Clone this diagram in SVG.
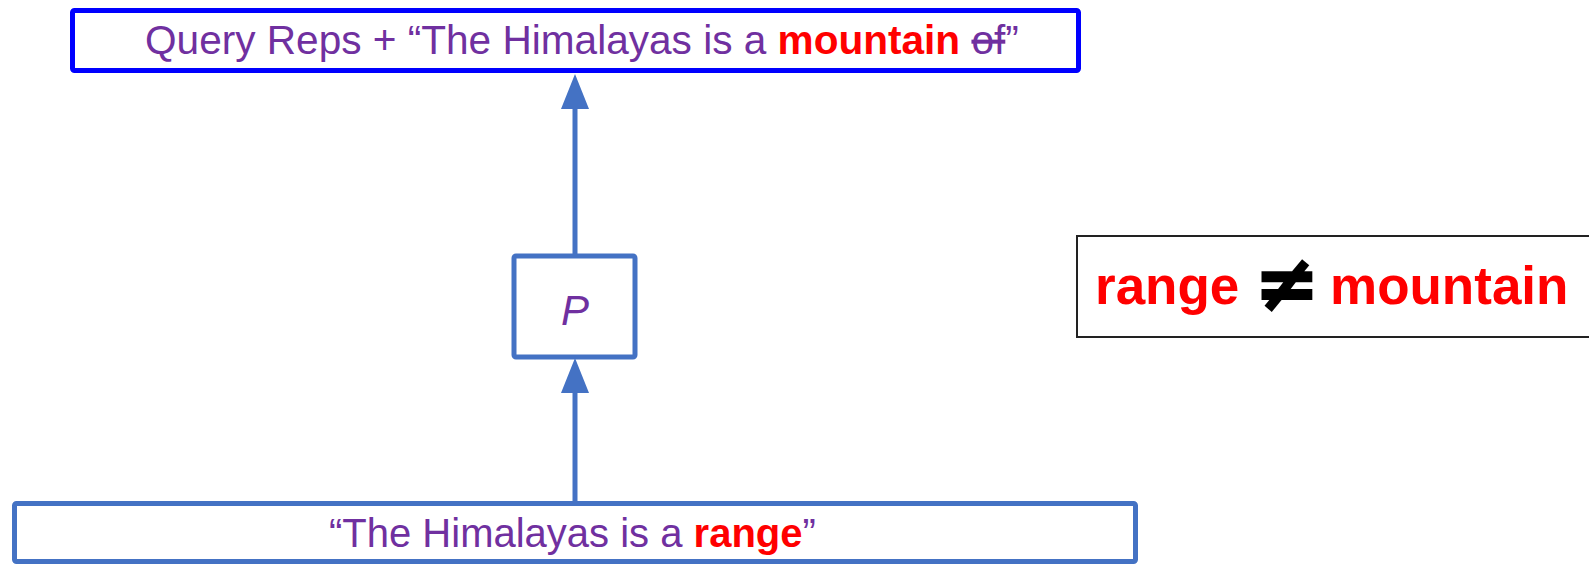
<svg xmlns="http://www.w3.org/2000/svg" width="1589" height="564" viewBox="0 0 1589 564">
<style>
.t{font-family:"Liberation Sans",Arial,sans-serif;font-size:40px;fill:#7030A0}
.red{fill:#FF0000;font-weight:bold}
.box{fill:#fff;stroke:#4472C4;stroke-width:5}
.conn line{stroke:#4472C4;stroke-width:5}
.conn polygon{fill:#4472C4}
</style>
<rect width="1589" height="564" fill="#fff"/>
<g id="query">
<rect x="72.5" y="10.5" width="1006" height="60" rx="2" fill="#fff" stroke="#0000FF" stroke-width="5"/>
<text class="t" x="145" y="54" style="font-size:40.6px">Query Reps + “The Himalayas is a <tspan class="red">mountain</tspan> <tspan text-decoration="line-through">of</tspan>”</text>
</g>
<g id="p">
<rect class="box" x="514" y="256" width="121" height="101" rx="2"/>
<text class="t" x="575" y="325" text-anchor="middle" style="font-size:42px;font-style:italic">P</text>
</g>
<g id="input">
<rect class="box" x="14.5" y="503.5" width="1121" height="58" rx="2"/>
<text class="t" x="329" y="547">“The Himalayas is a <tspan class="red">range</tspan>”</text>
</g>
<g id="note">
<rect x="1077" y="236" width="520" height="101" fill="#fff" stroke="#222" stroke-width="2"/>
<text x="1095" y="304" font-family="Liberation Sans,Arial,sans-serif" font-size="53" font-weight="bold" fill="#FF0000">range</text>
<text x="1287" y="310" font-family="DejaVu Sans,sans-serif" font-size="78" font-weight="bold" fill="#000" stroke="#000" stroke-width="2" text-anchor="middle">≠</text>
<text x="1330" y="304" font-family="Liberation Sans,Arial,sans-serif" font-size="53" font-weight="bold" fill="#FF0000">mountain</text>
</g>
<g id="connectors" class="conn">
<line x1="575" y1="256" x2="575" y2="105"/>
<polygon points="575,74 561,109 589,109"/>
<line x1="575" y1="503" x2="575" y2="389"/>
<polygon points="575,358 561,393 589,393"/>
</g>
</svg>
